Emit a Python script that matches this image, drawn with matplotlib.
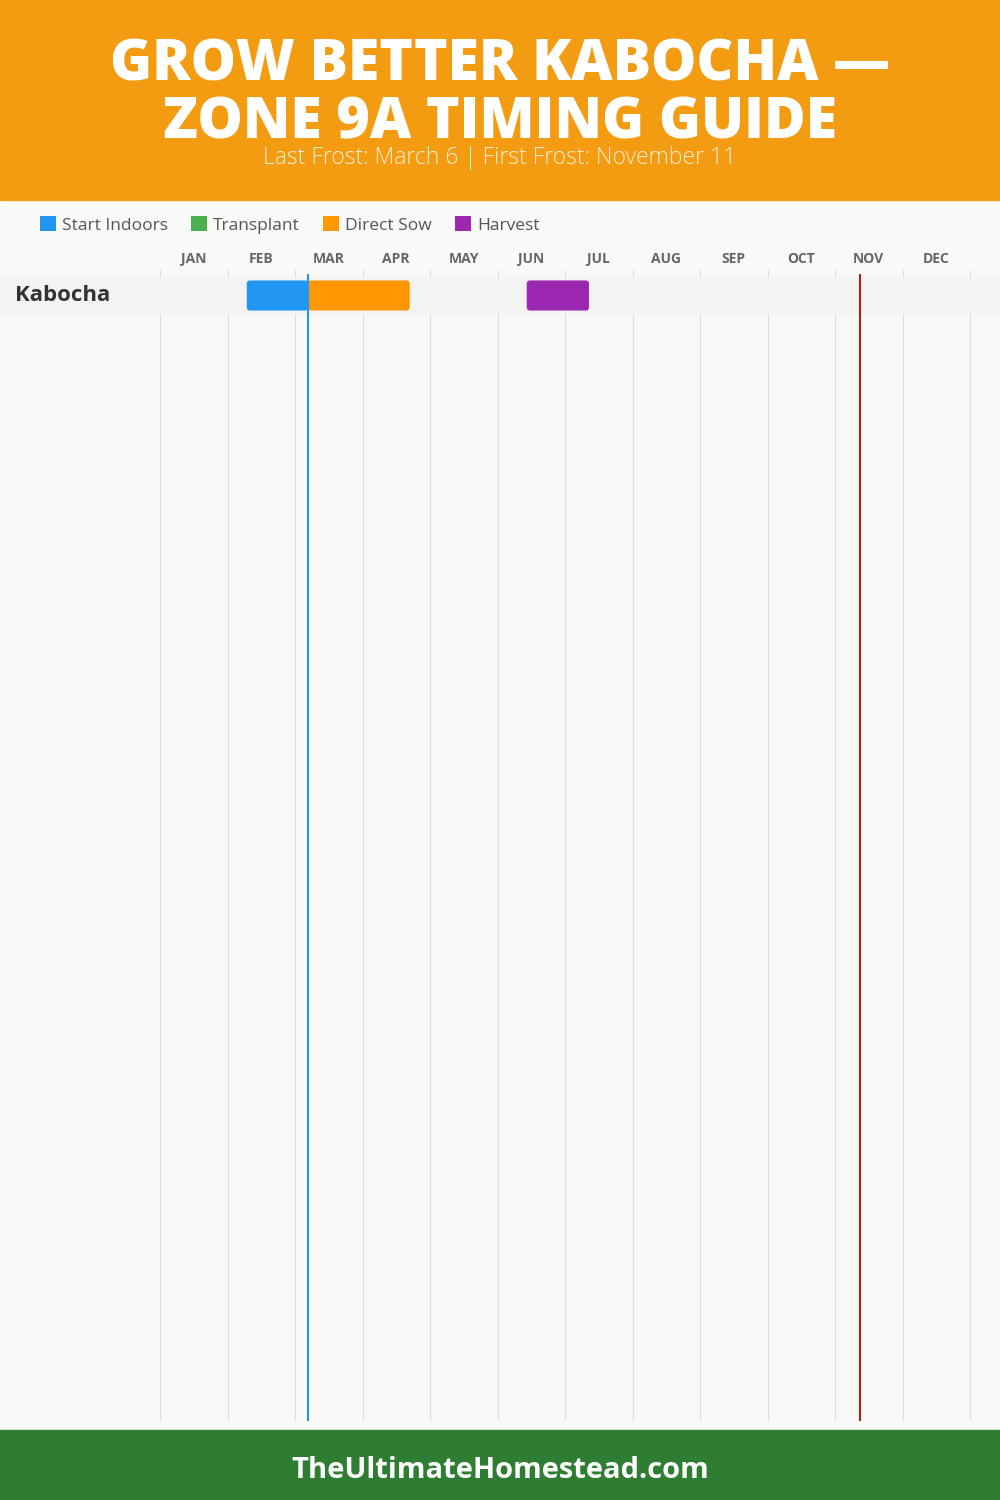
import matplotlib
matplotlib.use("Agg")
import matplotlib.pyplot as plt
from matplotlib.patches import Rectangle, FancyBboxPatch, Patch

# 데이터
months = ["JAN", "FEB", "MAR", "APR", "MAY", "JUN", "JUL", "AUG", "SEP", "OCT", "NOV", "DEC"]
days_in_month = [31, 28, 31, 30, 31, 30, 31, 31, 30, 31, 30, 31]
crops = ["Kabocha"]
stage_names = ["Start Indoors", "Transplant", "Direct Sow", "Harvest"]
stage_colors = ["#2196F3", "#4CAF50", "#FF9800", "#9C27B0"]
# (stage, month index, day)
stage_start = [(0, 1, 8), (2, 2, 6), (3, 5, 13)]
stage_end = [(0, 2, 6), (2, 3, 21), (3, 6, 11)]
last_frost = (2, 6)    # March 6
first_frost = (10, 11)  # November 11


def to_month(m, d):
    # 월 + 일 -> 소수 월 단위
    return m + d / days_in_month[m]


FONT = "Open Sans"
W, H = 1000, 1500
fig = plt.figure(figsize=(10, 15), dpi=100)
fig.patch.set_facecolor("#F9F9F7")

# 헤더 / 푸터
fig.patches.append(Rectangle((0, 1 - 200 / H), 1, 200 / H, transform=fig.transFigure,
                             color="#F39C12", zorder=0))
fig.patches.append(Rectangle((0, 0), 1, 70 / H, transform=fig.transFigure,
                             color="#2E7D32", zorder=0))

title_font = dict(family=FONT, weight="heavy", color="white", ha="center", va="center")
fig.text(0.5, 1 - 66 / H, "GROW BETTER KABOCHA —", fontsize=41, **title_font)
fig.text(0.5, 1 - 124 / H, "ZONE 9A TIMING GUIDE", fontsize=41, **title_font)
fig.text(0.5, 1 - 158 / H, "Last Frost: March 6 | First Frost: November 11",
         fontsize=16.5, family=FONT, weight="light", color="white", alpha=0.8,
         ha="center", va="center")
fig.text(0.5, 1 - 1471 / H, "TheUltimateHomestead.com", fontsize=21, family=FONT,
         weight="bold", color="white", ha="center", va="center")

# 메인 축: x = 월 단위, y = 행 번호
x0_px, mw = 160, 67.5
row_h, row_c = 35, 295.5
ax = fig.add_axes([0, 70 / H, 1, 1230 / H])
ax.set_facecolor("none")
ax.set_xlim(-x0_px / mw, (W - x0_px) / mw)
ax.set_ylim((1430 - row_c) / row_h, (200 - row_c) / row_h)
ax.axis("off")

def py(px):
    return (px - row_c) / row_h

# 그리드
for i in range(13):
    ax.plot([i, i], [py(270), py(1420)], color="#DDDDDD", lw=0.8, zorder=1)
for i, m in enumerate(months):
    ax.text(i + 0.5, py(259), m, ha="center", va="center", fontsize=10,
            family=FONT, weight="bold", color="#666666")

# 행
for r, crop in enumerate(crops):
    ax.axhspan(r - 0.5, r + 0.5, color="#F3F3F2", zorder=2)
    ax.text(-x0_px / mw + 15 / mw, r, crop, ha="left", va="center", fontsize=16,
            family=FONT, weight="bold", color="#333333", zorder=5)
    for (s, sm, sd), (_, em, ed) in zip(stage_start, stage_end):
        xs, xe = to_month(sm, sd), to_month(em, ed)
        box = FancyBboxPatch((xs, r - 0.43), xe - xs, 0.86,
                             boxstyle="round,pad=0,rounding_size=0.05",
                             mutation_aspect=mw / row_h,
                             facecolor=stage_colors[s], edgecolor="none", zorder=3)
        ax.add_patch(box)

# 서리 날짜 선
ax.plot([to_month(*last_frost)] * 2, [py(275), py(1420)], color="#2196F3", lw=1.5, zorder=4)
ax.plot([to_month(*first_frost)] * 2, [py(275), py(1420)], color="#B71C1C", lw=1.5, zorder=4)

# 범례
handles = [Patch(facecolor=c, edgecolor="none") for c in stage_colors]
fig.legend(handles, stage_names, loc="center left", bbox_to_anchor=(24 / W, 1 - 225 / H),
           ncol=4, frameon=False, handlelength=0.95, handleheight=0.95, handletextpad=0.35,
           columnspacing=1.3, prop=dict(family=FONT, size=12.5), labelcolor="#555555")

fig.savefig("out.png", dpi=100, facecolor=fig.get_facecolor())
